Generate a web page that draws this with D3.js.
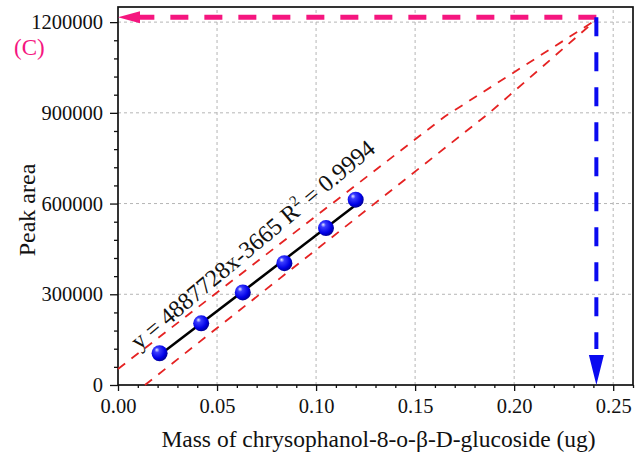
<!DOCTYPE html>
<html>
<head>
<meta charset="utf-8">
<script src="https://cdn.jsdelivr.net/npm/d3@7"></script>
<style>
  body { margin: 0; background: #fff; }
  svg text { font-family: "Liberation Serif", "Times New Roman", serif; fill: #111; }
</style>
</head>
<body>
<svg id="chart"></svg>
<script>
// calibration points
let massX = [0.021, 0.042, 0.063, 0.084, 0.105, 0.120]
let peakArea = [105000, 204000, 306000, 403000, 519000, 613000]

// fitted line end points
let fitX = [0.021, 0.120]
let fitY = [99000, 595000]

// red dashed bands
let upperX = [0, 0.165, 0.2415]
let upperY = [53000, 888000, 1208000]
let lowerX = [0.0136, 0.1875, 0.2415]
let lowerY = [0, 900000, 1208000]

// read-off arrows
let sampleMass = 0.2415
let sampleArea = 1216000

let xTicks = [0.00, 0.05, 0.10, 0.15, 0.20, 0.25]
let yTicks = [0, 300000, 600000, 900000, 1200000]

let equationText = 'y = 4887728x-3665 R'
let r2Text = ' = 0.9994'

let width = 643
let height = 465
let margin = {top: 7, right: 10, bottom: 80, left: 118}

let svg = d3.select('#chart').attr('width', width).attr('height', height)

let xScale = d3.scaleLinear().domain([0, 0.26]).range([margin.left, width - margin.right])
let yScale = d3.scaleLinear().domain([0, 1250000]).range([height - margin.bottom, margin.top])

let pink = '#f5167f'
let blue = '#0a0af0'
let red = '#e52222'

// gradient for the ball markers
let defs = svg.append('defs')
let grad = defs.append('radialGradient').attr('id', 'ball').attr('cx', '40%').attr('cy', '38%').attr('r', '62%').attr('fx', '32%').attr('fy', '28%')
grad.append('stop').attr('offset', '0%').attr('stop-color', '#e8ecff')
grad.append('stop').attr('offset', '25%').attr('stop-color', '#3a3cff')
grad.append('stop').attr('offset', '75%').attr('stop-color', '#0000e6')
grad.append('stop').attr('offset', '100%').attr('stop-color', '#00009a')

// grid
svg.append('g').selectAll('line')
  .data(xTicks.filter(d => d > 0))
  .enter().append('line')
  .attr('x1', d => xScale(d)).attr('x2', d => xScale(d))
  .attr('y1', yScale.range()[0]).attr('y2', yScale.range()[1])
  .attr('stroke', '#b5b5b5').attr('stroke-width', 1).attr('stroke-dasharray', '3,3')

svg.append('g').selectAll('line')
  .data(yTicks.filter(d => d > 0))
  .enter().append('line')
  .attr('y1', d => yScale(d)).attr('y2', d => yScale(d))
  .attr('x1', xScale.range()[0]).attr('x2', xScale.range()[1])
  .attr('stroke', '#b5b5b5').attr('stroke-width', 1).attr('stroke-dasharray', '3,3')

// axes
let xAxis = d3.axisBottom(xScale).tickValues(xTicks).tickFormat(d3.format('.2f')).tickSize(6).tickPadding(7).tickSizeOuter(0)
let xMinor = d3.axisBottom(xScale).tickValues(d3.range(0, 27).map(i => i / 100).filter(d => d <= 0.26 && (Math.round(d * 100) % 5 != 0))).tickFormat('').tickSize(3).tickSizeOuter(0)

svg.append('g').attr('transform', 'translate(0,' + (height - margin.bottom) + ')').call(xAxis)
svg.append('g').attr('transform', 'translate(0,' + (height - margin.bottom) + ')').call(xMinor)

let yAxis = d3.axisLeft(yScale).tickValues(yTicks).tickFormat(d3.format('d')).tickSize(8).tickPadding(7).tickSizeOuter(0)
let yMinor = d3.axisLeft(yScale).tickValues(d3.range(1, 21).map(i => i * 60000).filter(d => d % 300000 != 0)).tickFormat('').tickSize(4).tickSizeOuter(0)

svg.append('g').attr('transform', 'translate(' + margin.left + ',0)').call(yAxis)
svg.append('g').attr('transform', 'translate(' + margin.left + ',0)').call(yMinor)

svg.selectAll('.domain').remove()
svg.selectAll('.tick line').attr('stroke', '#111').attr('stroke-width', 1.3)
svg.selectAll('.tick text').style('font-size', '20.5px').attr('fill', '#111')

// frame
svg.append('rect')
  .attr('x', xScale.range()[0]).attr('y', yScale.range()[1])
  .attr('width', xScale.range()[1] - xScale.range()[0])
  .attr('height', yScale.range()[0] - yScale.range()[1])
  .attr('fill', 'none').attr('stroke', '#111').attr('stroke-width', 1.7)

// bands
let line = d3.line().x(d => xScale(d[0])).y(d => yScale(d[1]))
svg.append('path').attr('d', line(d3.zip(upperX, upperY)))
  .attr('fill', 'none').attr('stroke', red).attr('stroke-width', 1.8).attr('stroke-dasharray', '9,8')
svg.append('path').attr('d', line(d3.zip(lowerX, lowerY)))
  .attr('fill', 'none').attr('stroke', red).attr('stroke-width', 1.8).attr('stroke-dasharray', '9,8')

// pink horizontal arrow (drawn right to left)
let ax = xScale(sampleMass)
let ay = yScale(sampleArea)
svg.append('line')
  .attr('x1', ax).attr('y1', ay).attr('x2', xScale(0) + 22).attr('y2', ay)
  .attr('stroke', pink).attr('stroke-width', 5).attr('stroke-dasharray', '18,16')
svg.append('path')
  .attr('d', 'M' + xScale(0) + ',' + ay + 'L' + (xScale(0) + 22) + ',' + (ay - 6) + 'L' + (xScale(0) + 22) + ',' + (ay + 6) + 'Z')
  .attr('fill', pink)

// blue vertical arrow
let by = yScale(0)
svg.append('line')
  .attr('x1', ax).attr('y1', ay).attr('x2', ax).attr('y2', by - 36)
  .attr('stroke', blue).attr('stroke-width', 4).attr('stroke-dasharray', '19,16')
svg.append('path')
  .attr('d', 'M' + ax + ',' + by + 'L' + (ax - 7.5) + ',' + (by - 30) + 'L' + (ax + 7.5) + ',' + (by - 30) + 'Z')
  .attr('fill', blue)

// fit line
svg.append('path').attr('d', line(d3.zip(fitX, fitY)))
  .attr('fill', 'none').attr('stroke', '#000').attr('stroke-width', 2.5)

// points
svg.append('g').selectAll('circle')
  .data(d3.zip(massX, peakArea))
  .enter().append('circle')
  .attr('cx', d => xScale(d[0])).attr('cy', d => yScale(d[1]))
  .attr('r', 8)
  .attr('fill', 'url(#ball)')

// equation
let eq = svg.append('text')
  .attr('transform', 'translate(' + xScale(0.0706) + ',' + yScale(444000) + ') rotate(-40)')
  .attr('text-anchor', 'middle')
  .style('font-size', '24px')
eq.append('tspan').text(equationText)
eq.append('tspan').text('2').style('font-size', '15px').attr('dy', -10)
eq.append('tspan').text(r2Text).attr('dy', 10)

// labels
svg.append('text')
  .attr('x', 14).attr('y', 55)
  .style('font-size', '23px').style('fill', pink)
  .text('(C)')

svg.append('text')
  .attr('transform', 'translate(35,210) rotate(-90)')
  .attr('text-anchor', 'middle')
  .style('font-size', '24px')
  .text('Peak area')

svg.append('text')
  .attr('x', (margin.left + width - margin.right) / 2 + 3).attr('y', 447)
  .attr('text-anchor', 'middle')
  .style('font-size', '23.5px')
  .text('Mass of chrysophanol-8-o-β-D-glucoside (ug)')
</script>
</body>
</html>
